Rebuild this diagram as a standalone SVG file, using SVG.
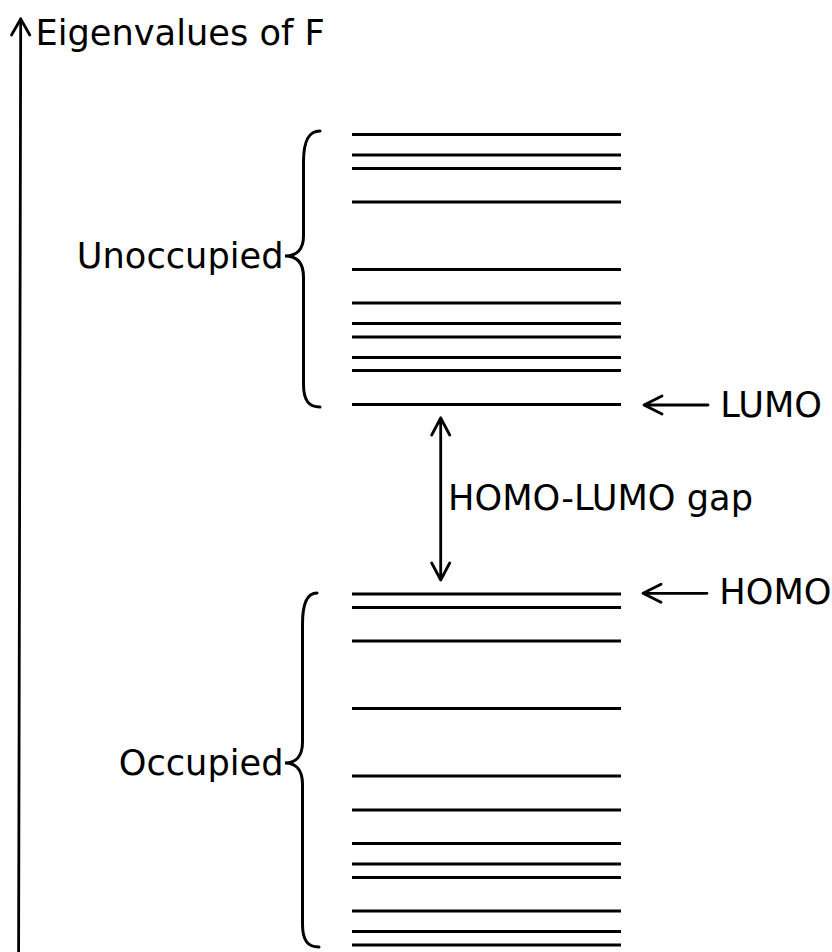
<svg xmlns="http://www.w3.org/2000/svg" width="832" height="952" viewBox="0 0 832 952">
<style>
.lvl{stroke:#000;stroke-width:3;fill:none}
.ln{stroke:#000;stroke-width:2.8;fill:none;stroke-linecap:round;stroke-linejoin:round}
.br{stroke:#000;stroke-width:3;fill:none;stroke-linecap:round}
text{font-family:"DejaVu Sans",sans-serif;font-size:35.2px;fill:#000}
</style>
<rect width="832" height="952" fill="#fff"/>
<g id="axis">
<path class="ln" d="M20.7,19 L18.6,952"/>
<path class="ln" d="M11.5,35 L20.7,19 L29.8,35"/>
<text x="35.5" y="44.5">Eigenvalues of F</text>
</g>
<g id="unoccupied">
<path class="lvl" d="M352,134.5H621M352,155H621M352,168.5H621M352,202H621M352,269.5H621M352,303H621M352,323.5H621M352,337H621M352,357.5H621M352,370.5H621"/>
<path class="br" d="M320,131 C309,131 303.5,140 303.5,162 L303.5,236 C303.5,249 297,256 285,256 C297,256 303.5,263 303.5,277 L303.5,384 C303.5,401 309,407 320,407"/>
<text x="283.5" y="268" text-anchor="end">Unoccupied</text>
</g>
<g id="lumo">
<path class="lvl" d="M352,404.5H621"/>
<text x="720.3" y="417">LUMO</text>
</g>
<g id="homo">
<path class="lvl" d="M352,594H621"/>
<text x="719.3" y="604">HOMO</text>
</g>
<g id="occupied">
<path class="lvl" d="M352,607.5H621M352,641H621M352,708.5H621M352,776H621M352,810H621M352,843.5H621M352,864H621M352,877.5H621M352,911H621M352,931.5H621M352,945H621"/>
<path class="br" d="M317,593 C308,593 302.5,602 302.5,624 L302.5,742 C302.5,756 296,763 285,763 C296,763 302.5,770 302.5,784 L302.5,924 C302.5,941 308,947 319,947"/>
<text x="283.5" y="775" text-anchor="end">Occupied</text>
</g>
<g id="connectors">
<path class="ln" d="M708,405H644M662,396L644,405L662,414"/>
<path class="ln" d="M707,593.3H643M661,584.3L643,593.3L661,602.3"/>
<path class="ln" d="M440.7,418V580M431.7,435L440.7,418L449.7,435M431.7,563L440.7,580L449.7,563"/>
<text x="448" y="510">HOMO-LUMO gap</text>
</g>
</svg>
